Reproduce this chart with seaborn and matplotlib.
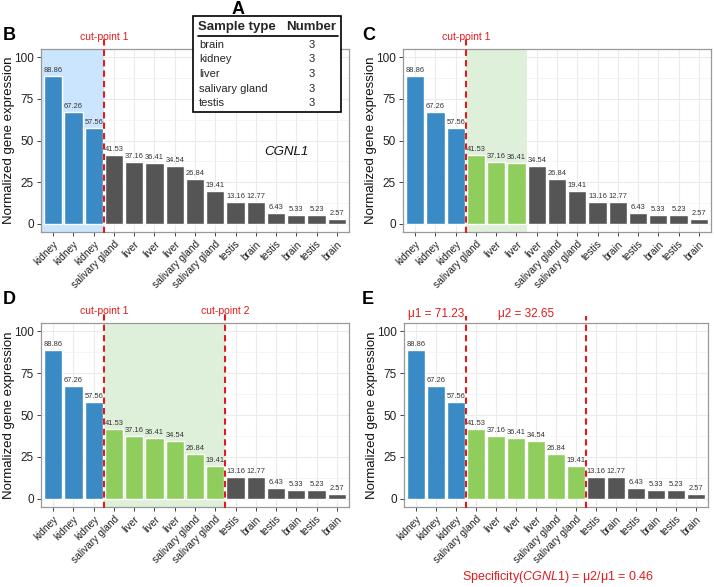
import numpy as np
import pandas as pd
import matplotlib
matplotlib.use('Agg')
import matplotlib.pyplot as plt
import seaborn as sns
from matplotlib.patches import Rectangle

sns.set_theme(style='whitegrid')
plt.rcParams['font.family'] = ['Liberation Sans', 'DejaVu Sans']
plt.rcParams['mathtext.fontset'] = 'custom'
plt.rcParams['mathtext.rm'] = 'Liberation Sans'
plt.rcParams['mathtext.it'] = 'Liberation Sans:italic'

# sample labels and normalized expression of CGNL1, sorted high to low
tissues = ['kidney', 'kidney', 'kidney', 'salivary gland', 'liver', 'liver', 'liver',
           'salivary gland', 'salivary gland', 'testis', 'brain', 'testis', 'brain',
           'testis', 'brain']
expression = [88.86, 67.26, 57.56, 41.53, 37.16, 36.41, 34.54, 26.84, 19.41,
              13.16, 12.77, 6.43, 5.33, 5.23, 2.57]

# table in panel A
sample_types = ['brain', 'kidney', 'liver', 'salivary gland', 'testis']
sample_counts = [3, 3, 3, 3, 3]

# group boundaries and summary numbers
cut1 = 3
cut2 = 9
mu1 = 71.23
mu2 = 32.65
specificity = 0.46

BLUE = '#3a8bc5'
GREEN = '#8fce5c'
GREY = '#555555'
RED = '#e31a1c'
palette = {'high': BLUE, 'mid': GREEN, 'low': GREY}

W, H = 714, 587
fig = plt.figure(figsize=(W / 100, H / 100), dpi=100)


def add_ax(x0, y0, x1, y1):
    return fig.add_axes([x0 / W, 1 - y1 / H, (x1 - x0) / W, (y1 - y0) / H])


def draw_panel(ax, n_mid):
    groups = ['high' if i < cut1 else ('mid' if i < cut1 + n_mid else 'low')
              for i in range(len(expression))]
    df = pd.DataFrame({'pos': np.arange(len(expression)), 'value': expression,
                       'group': groups})
    sns.barplot(data=df, x='pos', y='value', hue='group', palette=palette,
                dodge=False, width=0.9, legend=False, ax=ax, zorder=3,
                saturation=1)
    for i, v in enumerate(expression):
        ax.text(i, v + 1.2, f'{v:.2f}', ha='center', va='bottom', fontsize=5.4,
                color='#333333', zorder=4)
    ax.set_xlim(-0.6, len(expression) - 0.4)
    ax.set_ylim(-5, 105)
    ax.set_yticks([0, 25, 50, 75, 100])
    ax.set_yticks([12.5, 37.5, 62.5, 87.5], minor=True)
    ax.set_xticks(np.arange(len(expression)))
    ax.set_xticklabels(tissues, rotation=45, ha='right', rotation_mode='anchor',
                       fontsize=7.3, color='#222222')
    ax.tick_params(axis='y', labelsize=8.5, colors='#222222', length=3, width=0.6,
                   left=True, pad=2)
    ax.tick_params(axis='x', length=3, width=0.6, bottom=True, pad=2)
    ax.tick_params(which='minor', length=0)
    ax.grid(True, which='major', color='#ebebeb', lw=0.8, zorder=0)
    ax.grid(True, which='minor', axis='y', color='#f2f2f2', lw=0.5, zorder=0)
    ax.set_axisbelow(True)
    for s in ax.spines.values():
        s.set_color('#999999')
        s.set_linewidth(0.9)
    ax.set_xlabel('')
    ax.set_ylabel('Normalized gene expression', fontsize=9.5, color='#111111')
    ax.yaxis.set_label_coords(-0.104, 0.5)
    ax.yaxis.label.set_va('center')


def cut_line(ax, x, top=1.055):
    ax.axvline(x, ymin=-0.005, ymax=top, color=RED, ls=(0, (3, 2)), lw=1.5,
               clip_on=False, zorder=5)


# panel B
axB = add_ax(41, 49, 349, 232)
draw_panel(axB, 0)
axB.axvspan(-0.6, cut1 - 0.5, color='#cce5ff', zorder=1, lw=0)
cut_line(axB, cut1 - 0.5)
axB.text(cut1 - 0.5, 109, 'cut-point 1', ha='center', va='bottom', color=RED,
         fontsize=7.5)
axB.text(11.5, 43, 'CGNL1', style='italic', fontsize=9.5, ha='center',
         va='center', color='#111111')

# panel C
axC = add_ax(403, 49, 711, 232)
draw_panel(axC, 3)
axC.axvspan(cut1 - 0.5, cut1 + 2.5, color='#dff0da', zorder=1, lw=0)
cut_line(axC, cut1 - 0.5)
axC.text(cut1 - 0.5, 109, 'cut-point 1', ha='center', va='bottom', color=RED,
         fontsize=7.5)

# panel D
axD = add_ax(41, 323, 349, 507)
draw_panel(axD, 6)
axD.axvspan(cut1 - 0.5, cut2 - 0.5, color='#dff0da', zorder=1, lw=0)
cut_line(axD, cut1 - 0.5)
cut_line(axD, cut2 - 0.5)
axD.text(cut1 - 0.5, 109, 'cut-point 1', ha='center', va='bottom', color=RED,
         fontsize=7.5)
axD.text(cut2 - 0.5, 109, 'cut-point 2', ha='center', va='bottom', color=RED,
         fontsize=7.5)

# panel E
axE = add_ax(404, 323, 708, 507)
draw_panel(axE, 6)
cut_line(axE, cut1 - 0.5, top=1.04)
cut_line(axE, cut2 - 0.5, top=1.04)
axE.text((cut1 - 1) / 2, 107, f'\u03bc1 = {mu1:.2f}', ha='center', va='bottom',
         color=RED, fontsize=8.5)
axE.text((cut1 + cut2 - 1) / 2, 107, f'\u03bc2 = {mu2:.2f}', ha='center',
         va='bottom', color=RED, fontsize=8.5)
fig.text(558 / W, 1 - 577 / H,
         r'Specificity($\mathit{CGNL1}$) = ' + f'\u03bc2/\u03bc1 = {specificity:.2f}',
         ha='center', va='center', color=RED, fontsize=9)

# panel letters
for lab, (x, y) in {'A': (238, 10), 'B': (3, 35), 'C': (362, 35),
                    'D': (3, 300), 'E': (362, 300)}.items():
    fig.text(x / W, 1 - y / H, lab, fontsize=13, fontweight='bold',
             ha='left' if lab != 'A' else 'center', va='center', color='black')

# table A
axT = add_ax(193, 16, 341, 112)
axT.set_xlim(0, 148)
axT.set_ylim(96, 0)
axT.axis('off')
axT.add_patch(Rectangle((0, 0), 148, 96, fill=True, facecolor='white',
                        edgecolor='black', lw=1.2, clip_on=False))
axT.text(5, 11, 'Sample type', fontweight='bold', fontsize=9.5, va='center')
axT.text(143, 11, 'Number', fontweight='bold', fontsize=9.5, va='center',
         ha='right')
axT.plot([5, 145], [20, 20], color='black', lw=1.2)
for k, (st, n) in enumerate(zip(sample_types, sample_counts)):
    yy = 29 + k * 14.5
    axT.text(6, yy, st, fontsize=8, va='center')
    axT.text(119, yy, str(n), fontsize=8, va='center', ha='center')

fig.savefig('out.png', dpi=100)
